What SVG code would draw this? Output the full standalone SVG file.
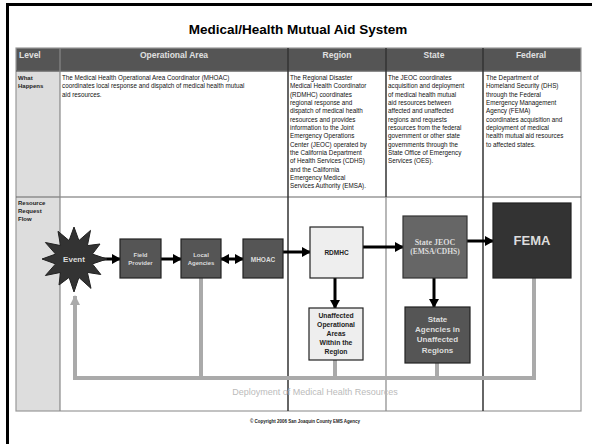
<svg xmlns="http://www.w3.org/2000/svg" width="592" height="444" viewBox="0 0 592 444">
<defs>
<marker id="ah" markerUnits="userSpaceOnUse" markerWidth="9" markerHeight="10" refX="8" refY="5" orient="auto-start-reverse"><path d="M0,0 L9,5 L0,10 Z" fill="#000"/></marker>
<marker id="ahg" markerUnits="userSpaceOnUse" markerWidth="10" markerHeight="10" refX="9" refY="5" orient="auto"><path d="M0,0 L10,5 L0,10 Z" fill="#aaa"/></marker>
<style>
text{font-family:"Liberation Sans",Arial,sans-serif}
.hd{font-size:8.5px;font-weight:bold;fill:#e0e0e0}
.lv{font-size:6px;font-weight:bold;fill:#222}
.bt{font-size:6.3px;fill:#111}
.wb{font-weight:bold;fill:#ddd;text-anchor:middle}
.db{font-weight:bold;fill:#222;text-anchor:middle}
.blk{stroke:#000;stroke-width:3;fill:none}
.gry{stroke:#aaa;stroke-width:4;fill:none}
</style>
</defs>
<rect width="592" height="444" fill="#fff"/>
<!-- outer frame -->
<path d="M7.5,444 V4.5 H592" fill="none" stroke="#000" stroke-width="3"/>
<text x="298" y="34" text-anchor="middle" font-size="13.5" font-weight="bold" fill="#000">Medical/Health Mutual Aid System</text>
<!-- table -->
<g id="table">
<rect x="16" y="48" width="565" height="23" fill="#555"/>
<rect x="16" y="71" width="44" height="340" fill="#ddd"/>
<rect x="16" y="48" width="565" height="363" fill="none" stroke="#999" stroke-width="1.2"/>
<line x1="16" y1="71" x2="581" y2="71" stroke="#666" stroke-width="1.5"/>
<line x1="16" y1="197" x2="581" y2="197" stroke="#666" stroke-width="1.2"/>
<line x1="60" y1="48" x2="60" y2="411" stroke="#888" stroke-width="1.2"/>
<line x1="288" y1="48" x2="288" y2="411" stroke="#333" stroke-width="1.5"/>
<line x1="386" y1="48" x2="386" y2="197" stroke="#333" stroke-width="1.5"/>
<line x1="386" y1="197" x2="386" y2="411" stroke="#888" stroke-width="1.2"/>
<line x1="483" y1="48" x2="483" y2="411" stroke="#333" stroke-width="1.5"/>
<text class="hd" x="19" y="58">Level</text>
<text class="hd" x="174" y="58" text-anchor="middle">Operational Area</text>
<text class="hd" x="337" y="58" text-anchor="middle">Region</text>
<text class="hd" x="434" y="58" text-anchor="middle">State</text>
<text class="hd" x="531" y="58" text-anchor="middle">Federal</text>
<text class="lv" x="18" y="80">What</text>
<text class="lv" x="18" y="88">Happens</text>
<text class="lv" x="18" y="205">Resource</text>
<text class="lv" x="18" y="213">Request</text>
<text class="lv" x="18" y="221">Flow</text>
<text class="bt" x="62" y="80">The Medical Health Operational Area Coordinator (MHOAC)</text>
<text class="bt" x="62" y="88.4">coordinates local response and dispatch of medical health mutual</text>
<text class="bt" x="62" y="96.7">aid resources.</text>
<text class="bt" x="290" y="80">The Regional Disaster<tspan x="290" dy="8.33">Medical Health Coordinator</tspan><tspan x="290" dy="8.33">(RDMHC) coordinates</tspan><tspan x="290" dy="8.33">regional response and</tspan><tspan x="290" dy="8.33">dispatch of medical health</tspan><tspan x="290" dy="8.33">resources and provides</tspan><tspan x="290" dy="8.33">information to the Joint</tspan><tspan x="290" dy="8.33">Emergency Operations</tspan><tspan x="290" dy="8.33">Center (JEOC) operated by</tspan><tspan x="290" dy="8.33">the California Department</tspan><tspan x="290" dy="8.33">of Health Services (CDHS)</tspan><tspan x="290" dy="8.33">and the California</tspan><tspan x="290" dy="8.33">Emergency Medical</tspan><tspan x="290" dy="8.33">Services Authority (EMSA).</tspan></text>
<text class="bt" x="388" y="80">The JEOC coordinates<tspan x="388" dy="8.33">acquisition and deployment</tspan><tspan x="388" dy="8.33">of medical health mutual</tspan><tspan x="388" dy="8.33">aid resources between</tspan><tspan x="388" dy="8.33">affected and unaffected</tspan><tspan x="388" dy="8.33">regions and requests</tspan><tspan x="388" dy="8.33">resources from the federal</tspan><tspan x="388" dy="8.33">government or other state</tspan><tspan x="388" dy="8.33">governments through the</tspan><tspan x="388" dy="8.33">State Office of Emergency</tspan><tspan x="388" dy="8.33">Services (OES).</tspan></text>
<text class="bt" x="486" y="80">The Department of<tspan x="486" dy="8.33">Homeland Security (DHS)</tspan><tspan x="486" dy="8.33">through the Federal</tspan><tspan x="486" dy="8.33">Emergency Management</tspan><tspan x="486" dy="8.33">Agency (FEMA)</tspan><tspan x="486" dy="8.33">coordinates acquisition and</tspan><tspan x="486" dy="8.33">deployment of medical</tspan><tspan x="486" dy="8.33">health mutual aid resources</tspan><tspan x="486" dy="8.33">to affected states.</tspan></text>
</g>
<!-- connectors -->
<g id="connectors">
<path class="gry" d="M75,300 V378 H534 V278"/>
<path class="gry" d="M75,310 V296" marker-end="url(#ahg)"/>
<line class="gry" x1="201" y1="278" x2="201" y2="378"/>
<line class="gry" x1="335" y1="360" x2="335" y2="378"/>
<line class="gry" x1="437" y1="363" x2="437" y2="378"/>
<line class="blk" x1="97" y1="259" x2="120" y2="259" marker-end="url(#ah)"/>
<line class="blk" x1="161" y1="259" x2="181" y2="259" marker-end="url(#ah)"/>
<line class="blk" x1="221" y1="259" x2="243" y2="259" marker-start="url(#ah)" marker-end="url(#ah)"/>
<line class="blk" x1="283" y1="252" x2="310" y2="252" marker-end="url(#ah)"/>
<line class="blk" x1="363" y1="247" x2="403" y2="247" marker-end="url(#ah)"/>
<line class="blk" x1="467" y1="241" x2="493" y2="241" marker-end="url(#ah)"/>
<line class="blk" x1="335" y1="278" x2="335" y2="308" marker-end="url(#ah)"/>
<line class="blk" x1="434" y1="278" x2="434" y2="307" marker-end="url(#ah)"/>
</g>
<text x="315" y="395" text-anchor="middle" font-size="9" fill="#bbb">Deployment of Medical Health Resources</text>
<!-- nodes -->
<g id="event">
<polygon points="107,259 92.4,263.9 100.8,274.5 87.4,272.4 91,288.4 78.9,277.4 74,292 69.1,277.4 59,285 60.6,272.4 45.4,275.5 55.6,263.9 42,259 55.6,254.1 45.4,242.5 60.6,245.6 58,231.3 69.1,240.6 74,227 78.9,240.6 90.5,230.4 87.4,245.6 100,244 92.4,254.1" fill="#333" stroke="#222" stroke-width="1"/>
<text class="wb" x="74" y="262" font-size="8">Event</text>
</g>
<g id="field-provider">
<rect x="120" y="239" width="41" height="39" fill="#555" stroke="#222" stroke-width="1.2"/>
<text class="wb" x="140.5" y="257" font-size="6">Field</text>
<text class="wb" x="140.5" y="264.5" font-size="6">Provider</text>
</g>
<g id="local-agencies">
<rect x="181" y="239" width="40" height="39" fill="#555" stroke="#222" stroke-width="1.2"/>
<text class="wb" x="201" y="257" font-size="6">Local</text>
<text class="wb" x="201" y="264.5" font-size="6">Agencies</text>
</g>
<g id="mhoac">
<rect x="243" y="239" width="40" height="39" fill="#555" stroke="#222" stroke-width="1.2"/>
<text class="wb" x="263" y="261.5" font-size="6.5">MHOAC</text>
</g>
<g id="rdmhc">
<rect x="310" y="227" width="53" height="51" fill="#eee" stroke="#222" stroke-width="1.2"/>
<text class="db" x="336.5" y="255" font-size="6.5" fill="#333">RDMHC</text>
</g>
<g id="state-jeoc">
<rect x="403" y="216" width="64" height="62" fill="#666" stroke="#333" stroke-width="1.2"/>
<text class="wb" x="435" y="245" font-size="8" style="font-family:'Liberation Serif',serif">State JEOC</text>
<text class="wb" x="435" y="254" font-size="7.5" style="font-family:'Liberation Serif',serif">(EMSA/CDHS)</text>
</g>
<g id="fema">
<rect x="493" y="203" width="78" height="75" fill="#333" stroke="#222" stroke-width="1.2"/>
<text class="wb" x="532" y="245" font-size="13">FEMA</text>
</g>
<g id="unaffected-oa">
<rect x="309" y="308" width="54" height="52" fill="#eee" stroke="#222" stroke-width="1.2"/>
<text class="db" x="336" y="317.5" font-size="6.8">Unaffected</text>
<text class="db" x="336" y="326.5" font-size="6.8">Operational</text>
<text class="db" x="336" y="335.5" font-size="6.8">Areas</text>
<text class="db" x="336" y="344.5" font-size="6.8">Within the</text>
<text class="db" x="336" y="353.5" font-size="6.8">Region</text>
</g>
<g id="state-agencies">
<rect x="405" y="307" width="65" height="56" fill="#555" stroke="#222" stroke-width="1.2"/>
<text class="wb" x="437.5" y="322" font-size="8">State</text>
<text class="wb" x="437.5" y="332" font-size="8">Agencies in</text>
<text class="wb" x="437.5" y="342" font-size="8">Unaffected</text>
<text class="wb" x="437.5" y="352.5" font-size="8">Regions</text>
</g>
<text x="305" y="423" text-anchor="middle" font-size="4.5" font-weight="bold" fill="#222">© Copyright 2006 San Joaquin County EMS Agency</text>
</svg>
